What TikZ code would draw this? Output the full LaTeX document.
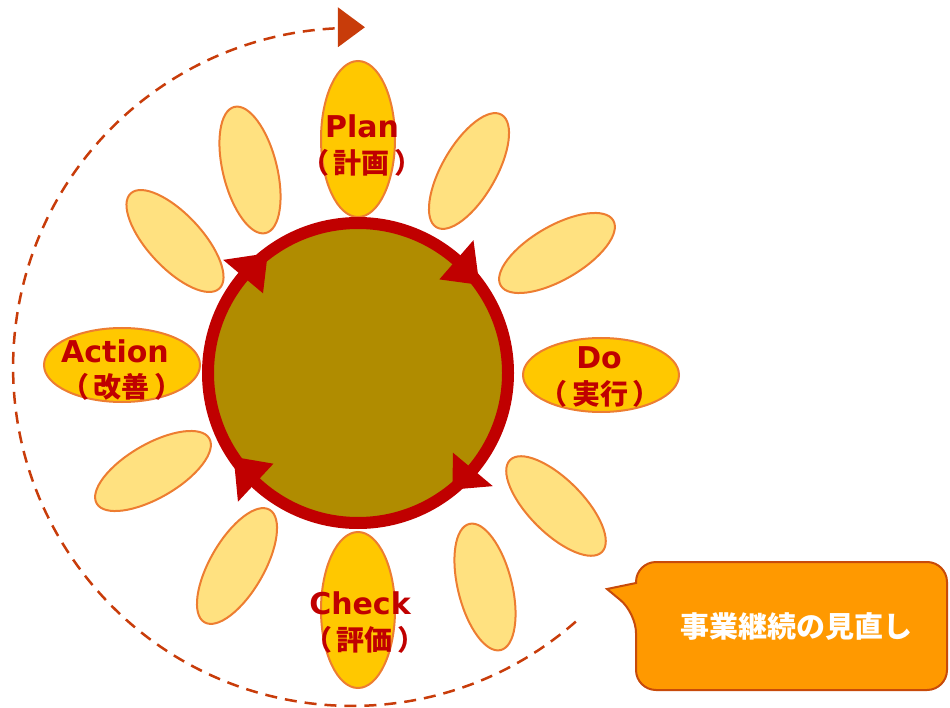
\documentclass[tikz,border=0pt]{standalone}
\usepackage{fontspec}
\setmainfont{DejaVu Sans}
\newfontfamily\jp{Noto Sans CJK JP}
\newfontfamily\jpp{Noto Sans CJK JP}[RawFeature=+palt]
\usetikzlibrary{shapes.geometric,calc}
\definecolor{ringred}{RGB}{192,0,0}
\definecolor{sunfill}{RGB}{176,140,0}
\definecolor{mainpet}{RGB}{255,200,0}
\definecolor{lightpet}{RGB}{255,225,128}
\definecolor{petline}{RGB}{237,125,49}
\definecolor{dashcol}{RGB}{200,60,10}
\definecolor{callfill}{RGB}{255,153,0}
\definecolor{callline}{RGB}{200,75,10}
\newcommand{\pj}[1]{（\kern6pt #1\kern6pt ）}
\begin{document}
\begin{tikzpicture}[x=1pt,y=1pt,
  petal/.style={ellipse, draw=petline, line width=2pt, inner sep=0pt, fill=lightpet,
    minimum width=130pt, minimum height=54pt},
  mainpetal/.style={ellipse, draw=petline, line width=2pt, inner sep=0pt, fill=mainpet},
  vpetal/.style={mainpetal, minimum width=74pt, minimum height=156pt},
  hpetal/.style={mainpetal, minimum width=156pt, minimum height=74pt},
  lat/.style={text=ringred, font=\fontsize{30}{30}\selectfont\bfseries, inner sep=0pt},
  jpl/.style={text=ringred, font=\jpp\fontsize{28}{28}\selectfont\bfseries, inner sep=0pt},
  dashline/.style={draw=dashcol, line width=2.5pt, dash pattern=on 12pt off 8pt}
]
\useasboundingbox (0,0) rectangle (950,-708);
% dashed cycle arc
\coordinate (arcstart) at (575.8,-621.6);
\draw[dashline] (arcstart) arc[start angle=-48.7, end angle=-267.6, radius=339] coordinate (arcend);
\fill[dashcol] ($(arcend)+(0,21)$) -- ($(arcend)+(27,1)$) -- ($(arcend)+(0,-19)$) -- cycle;
% light petals
\node[petal, rotate=104] (p1) at (250,-170) {};
\node[petal, rotate=60] (p2) at (469,-171) {};
\node[petal, rotate=30] (p3) at (557,-253) {};
\node[petal, rotate=-45] (p4) at (556,-506) {};
\node[petal, rotate=104] (p5) at (485,-587) {};
\node[petal, rotate=60] (p6) at (237,-566) {};
\node[petal, rotate=30] (p7) at (153,-471) {};
\node[petal, rotate=-47] (p8) at (175,-241) {};
% main petals
\node[vpetal] (plan) at (358,-139) {};
\node[vpetal] (check) at (358,-610) {};
\node[hpetal] (action) at (122,-365) {};
\node[hpetal] (do) at (601,-375) {};
% sun
\node[circle, minimum size=300pt, inner sep=0pt, fill=sunfill, draw=ringred, line width=12pt] (sun) at (358,-373) {};
\foreach \b/\a in {140/127, 49/36, -40/-51, -133/-146}{
  \fill[ringred] ($(sun.center)+(\b:124pt)$) -- ($(sun.center)+(\a:150pt)$) -- ($(sun.center)+(\b:176pt)$) -- cycle;
}
% labels
\node[lat] (planA) at (362,-126) {Plan};
\node[jpl] (planB) at (362,-163) {\pj{計画}};
\node[lat] (doA) at (599,-358) {Do};
\node[jpl] (doB) at (600,-394) {\pj{実行}};
\node[lat] (checkA) at (360,-603) {Check};
\node[jpl] (checkB) at (365,-640) {\pj{評価}};
\node[lat] (actionA) at (115,-351) {Action};
\node[jpl] (actionB) at (122,-387) {\pj{改善}};
% callout
\draw[fill=callfill, draw=callline, line width=2pt]
  (636,-583) [rounded corners=20pt] -- (636,-562) -- (947,-562) -- (947,-690) -- (636,-690) -- (636,-613)
  [sharp corners] -- (607,-589) -- cycle;
\node[text=white, font=\jp\fontsize{29}{29}\selectfont\bfseries, inner sep=0pt] (calltext) at (796,-627) {事業継続の見直し};
\end{tikzpicture}
\end{document}
